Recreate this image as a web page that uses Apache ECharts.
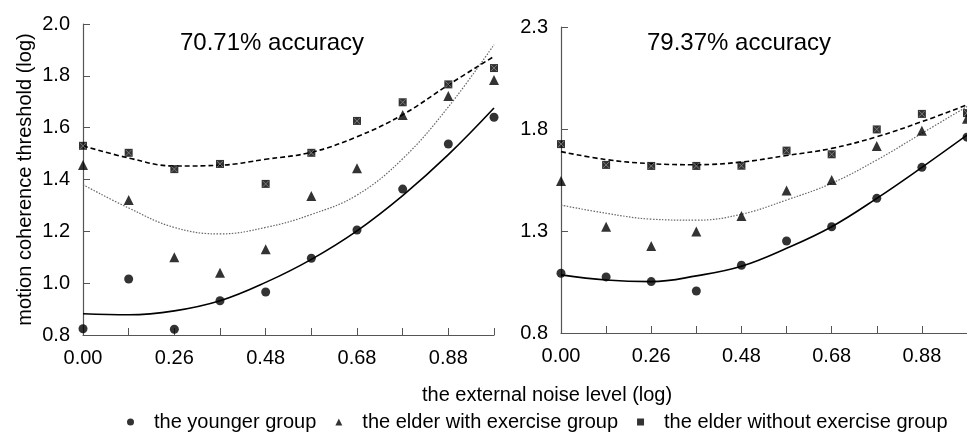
<!DOCTYPE html>
<html>
<head>
<meta charset="utf-8">
<script src="https://cdn.jsdelivr.net/npm/echarts@6/dist/echarts.min.js"></script>
<style>
  html, body { margin: 0; padding: 0; background: #fff; }
  #chart { width: 967px; height: 434px; }
</style>
</head>
<body>
<div id="chart"></div>
<script>
// noise levels (log), every other one labelled
const noiseLevels = ['0.00', '0.13', '0.26', '0.37', '0.48', '0.58', '0.68', '0.78', '0.88', '0.98'];
const groupNames = ['the younger group', 'the elder with exercise group', 'the elder without exercise group'];

// 70.71% accuracy panel
const youngL = [0.824, 1.016, 0.822, 0.932, 0.966, 1.096, 1.205, 1.363, 1.537, 1.640];
const exerciseL = [1.456, 1.321, 1.100, 1.040, 1.131, 1.336, 1.443, 1.649, 1.722, 1.784];
const noExerciseL = [1.530, 1.503, 1.440, 1.460, 1.383, 1.503, 1.626, 1.698, 1.767, 1.830];
const youngFitL = [0.882, 0.878, 0.893, 0.932, 1.003, 1.092, 1.202, 1.338, 1.496, 1.676];
const exerciseFitL = [1.380, 1.290, 1.215, 1.190, 1.215, 1.265, 1.340, 1.480, 1.680, 1.920];
const noExerciseFitL = [1.530, 1.483, 1.452, 1.455, 1.478, 1.505, 1.565, 1.650, 1.765, 1.875];

// 79.37% accuracy panel
const youngR = [1.093, 1.075, 1.052, 1.006, 1.132, 1.251, 1.321, 1.460, 1.612, 1.760];
const exerciseR = [1.545, 1.321, 1.226, 1.297, 1.374, 1.498, 1.550, 1.717, 1.792, 1.850];
const noExerciseR = [1.726, 1.624, 1.619, 1.619, 1.620, 1.694, 1.676, 1.798, 1.874, 1.878];
const youngFitR = [1.085, 1.060, 1.052, 1.080, 1.127, 1.215, 1.321, 1.460, 1.612, 1.770];
const exerciseFitR = [1.427, 1.387, 1.358, 1.353, 1.382, 1.452, 1.534, 1.648, 1.779, 1.910];
const noExerciseFitR = [1.689, 1.650, 1.630, 1.625, 1.638, 1.670, 1.705, 1.762, 1.836, 1.918];

const leftTicks = { min: 0.8, max: 2.0, interval: 0.2 };
const rightTicks = { min: 0.8, max: 2.3, interval: 0.5 };

const chart = echarts.init(document.getElementById('chart'));

const font = 'Liberation Sans, Arial, sans-serif';
const axisColor = '#555';
const textColor = '#000';
const symbols = ['circle', 'triangle', 'rect'];
const symbolSizes = [9, 10, 8];

function xAxisFor(gridIndex) {
  return {
    gridIndex: gridIndex,
    type: 'category',
    boundaryGap: false,
    data: noiseLevels,
    axisLine: { lineStyle: { color: axisColor, width: 1.2 } },
    axisTick: { inside: true, length: 7, interval: 0, lineStyle: { color: axisColor } },
    axisLabel: { interval: 1, margin: 13, fontSize: 20, color: textColor, fontFamily: font },
    splitLine: { show: false }
  };
}

function yAxisFor(gridIndex, ticks, name) {
  return {
    gridIndex: gridIndex,
    type: 'value',
    min: ticks.min,
    max: ticks.max,
    interval: ticks.interval,
    name: name,
    nameLocation: 'middle',
    nameGap: 48,
    nameTextStyle: { fontSize: 20, color: textColor, fontFamily: font },
    axisLine: { show: true, lineStyle: { color: axisColor, width: 1.2 } },
    axisTick: { show: true, inside: true, length: 7, lineStyle: { color: axisColor } },
    axisLabel: { margin: 13, fontSize: 20, color: textColor, fontFamily: font,
      formatter: function (v) { return v.toFixed(1); } },
    splitLine: { show: false }
  };
}

function panelSeries(idx, points, fits) {
  const out = [];
  const lineStyles = [
    { color: '#000', width: 1.6, type: 'solid' },
    { color: '#666', width: 1.2, type: [1.5, 1.5] },
    { color: '#000', width: 1.6, type: [5, 3] }
  ];
  fits.forEach(function (fit, k) {
    out.push({
      name: 'fit' + idx + '-' + k,
      type: 'line',
      xAxisIndex: idx,
      yAxisIndex: idx,
      data: fit,
      smooth: 0.4,
      showSymbol: false,
      silent: true,
      lineStyle: lineStyles[k],
      z: 2
    });
  });
  points.forEach(function (pts, k) {
    out.push({
      name: groupNames[k],
      type: 'scatter',
      xAxisIndex: idx,
      yAxisIndex: idx,
      data: pts,
      symbol: symbols[k],
      symbolSize: symbolSizes[k],
      itemStyle: { color: '#000' },
      z: 3
    });
  });
  // light cross drawn inside the square markers
  out.push({
    name: 'cross' + idx,
    type: 'scatter',
    xAxisIndex: idx,
    yAxisIndex: idx,
    data: points[2],
    symbol: 'path://M0,0L10,10M10,0L0,10',
    symbolSize: 6,
    silent: true,
    itemStyle: { color: 'transparent', borderColor: '#888', borderWidth: 1 },
    z: 4
  });
  return out;
}

const options = {
  animation: false,
  textStyle: { fontFamily: font },
  title: [
    { text: '70.71% accuracy', left: 180, top: 31, padding: 0,
      textStyle: { fontSize: 24, fontWeight: 'normal', color: textColor, fontFamily: font } },
    { text: '79.37% accuracy', left: 647, top: 31, padding: 0,
      textStyle: { fontSize: 24, fontWeight: 'normal', color: textColor, fontFamily: font } }
  ],
  legend: {
    data: groupNames.map(function (n, k) { return { name: n, icon: symbols[k] }; }),
    left: 127,
    top: 412,
    padding: 0,
    itemWidth: 7,
    itemHeight: 7,
    itemGap: 19,
    itemStyle: { color: '#000' },
    textStyle: { fontSize: 20, color: textColor, fontFamily: font, padding: [0, 0, 0, 15] }
  },
  grid: [
    { left: 83, top: 24, width: 411, height: 311 },
    { left: 561, top: 27, width: 406, height: 306 }
  ],
  xAxis: [xAxisFor(0), xAxisFor(1)],
  yAxis: [
    yAxisFor(0, leftTicks, 'motion coherence threshold (log)'),
    yAxisFor(1, rightTicks, '')
  ],
  graphic: [
    { type: 'text', left: 422, top: 385,
      style: { text: 'the external noise level (log)', fill: textColor, font: '20px ' + font } }
  ],
  series: [].concat(
    panelSeries(0, [youngL, exerciseL, noExerciseL], [youngFitL, exerciseFitL, noExerciseFitL]),
    panelSeries(1, [youngR, exerciseR, noExerciseR], [youngFitR, exerciseFitR, noExerciseFitR])
  )
};

chart.setOption(options);
window.onresize = () => {
  chart.resize();
};
</script>
</body>
</html>
